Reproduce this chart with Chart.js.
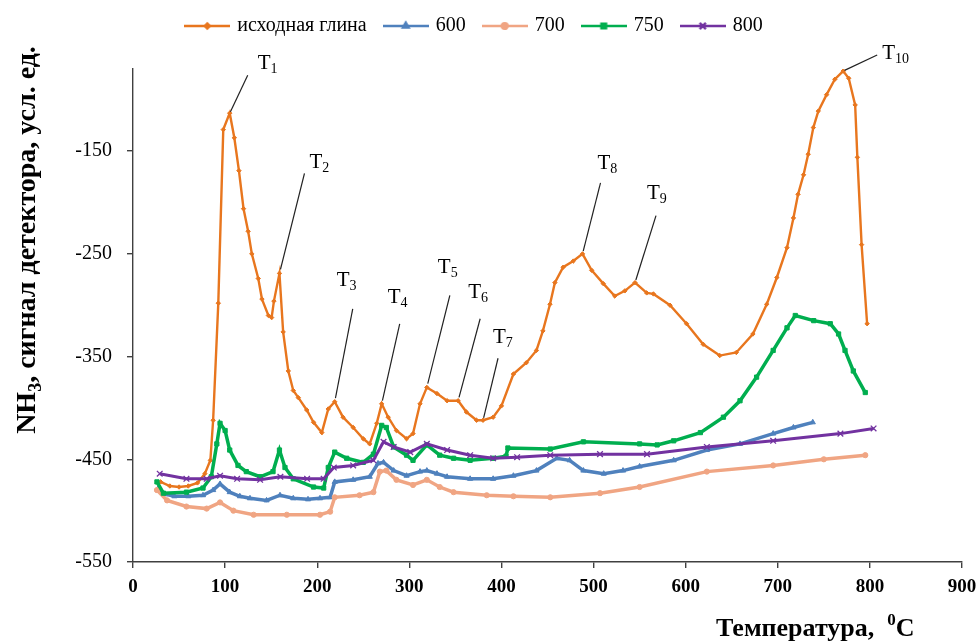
<!DOCTYPE html>
<html>
<head>
<meta charset="utf-8">
<script src="https://cdn.jsdelivr.net/npm/chart.js@4/dist/chart.umd.min.js"></script>
<style>
  body { margin: 0; background: #fff; }
</style>
</head>
<body>
<canvas id="tpd" width="979" height="641"></canvas>
<script>
// NH3 TPD curves: initial clay and samples calcined at 600-800 °C
const seriesNames = ['исходная глина', '600', '700', '750', '800'];

const clayT = [30, 40, 50, 60, 70, 78, 84, 87, 92.6, 98, 105, 110, 115, 120, 125, 129, 136, 140, 147, 150.5,
  153, 159, 163, 168.6, 174, 179.5, 188.6, 196, 205, 212, 219, 228, 239, 250, 257, 264.6, 270, 277, 286, 297,
  304, 311.6, 319, 330, 341, 353, 362, 373, 380, 391, 400, 413, 427, 438, 445, 452.7, 458, 467, 478, 488,
  498, 510.6, 523, 534, 545, 557.7, 565, 583, 601, 619, 637, 655, 673, 688, 699, 710, 717, 722, 728, 733,
  738.6, 744, 753, 762, 771, 777, 784, 786.4, 791, 797];
const clayV = [-472, -476, -477, -476, -473, -464, -451, -412, -298, -129, -113, -137, -169, -206, -228, -250, -274, -294, -310, -312,
  -296, -269, -326, -364, -383, -390, -402, -414, -424, -401, -394, -409, -419, -430, -435, -415, -396, -409, -422, -430,
  -425, -396, -380, -386, -393, -393, -404, -412, -412, -409, -398, -367, -356, -344, -325, -299, -278, -263, -257, -250,
  -266, -279, -291, -286, -278, -288, -289, -300, -318, -338, -349, -346, -328, -299, -273, -244, -215, -192, -173, -153,
  -127, -111, -95, -80, -72, -79, -105, -156, -241, -318];

const t600 = [27, 35, 45, 60, 76, 87, 94.5, 105, 116, 127, 145, 159.6, 174, 190, 203, 214, 219, 239, 257, 266,
  272, 283, 297, 311.6, 319, 330, 341, 366, 391, 413, 438, 460, 474, 489, 511, 532, 550, 587, 623, 659,
  695, 717, 738];
const v600 = [-479, -484, -486, -486, -485, -480, -474, -482, -486, -488, -490, -485, -488, -489, -488, -487, -472, -470, -467, -454,
  -453, -461, -466, -462, -461, -464, -467, -469, -469, -466, -461, -449, -451, -461, -464, -461, -457, -451, -441, -435,
  -425, -419, -414];

const t700 = [26, 37, 58, 80, 94.5, 109, 131, 167, 203, 214, 219, 246, 261, 268, 275, 286, 304, 319, 333, 348,
  384, 413, 453, 507, 550, 623, 695, 750, 795];
const v700 = [-480, -490, -496, -498, -492, -500, -504, -504, -504, -501, -487, -485, -482, -462, -461, -470, -475, -470, -477, -482,
  -485, -486, -487, -483, -477, -462, -456, -450, -446];

const t750 = [26, 33, 58, 76, 85, 91, 94.5, 100, 105, 114, 123, 138, 152, 159, 165, 174, 196, 207, 212, 219,
  232, 250, 261, 270, 275, 283, 297, 304, 319, 333, 348, 366, 391, 405, 407, 453, 489, 550, 569, 587,
  616, 641, 659, 677, 695, 710, 719, 739, 757, 766, 773, 782, 795];
const v750 = [-472, -483, -482, -478, -467, -435, -415, -422, -441, -456, -462, -467, -462, -441, -458, -469, -477, -478, -458, -443,
  -449, -453, -445, -417, -419, -438, -446, -451, -436, -446, -449, -451, -449, -447, -439, -440, -433, -435, -436, -432,
  -424, -409, -393, -370, -344, -322, -310, -315, -318, -328, -344, -364, -385];

const t800 = [29, 58, 80, 94.5, 113, 138, 160, 189, 207, 218, 239, 261, 272, 283, 301, 319, 341, 366, 391, 417,
  453, 507, 558, 623, 695, 768, 804];
const v800 = [-464, -469, -469, -466, -469, -470, -467, -469, -469, -458, -456, -451, -433, -438, -443, -435, -441, -446, -449, -448,
  -446, -445, -445, -438, -432, -425, -420];

const xTicks = [0, 100, 200, 300, 400, 500, 600, 700, 800, 900];
const yTicks = [-550, -450, -350, -250, -150];

// peaks of the initial clay curve marked T1..T10
const peakNames = ['1', '2', '3', '4', '5', '6', '7', '8', '9', '10'];
const peakT = [105, 159, 219, 270, 319, 353, 380, 488, 545, 771];

// leader line end and label origin, px relative to the peak
const leaderEnd = [[18, -38], [25, -100], [18, -93], [18, -80], [23, -92], [22, -82], [15, -62], [18, -71], [21, -67], [34, -16]];
const labelAt = [[28, -44], [30, -105], [2, -116], [6, -101], [11, -114], [10, -103], [10, -77], [15, -85], [12, -84], [39, -12]];

const colors = ['#E8761E', '#4F81BD', '#F0A583', '#00AE4F', '#7232A0'];
const markers = ['rectRot', 'triangle', 'circle', 'rect', 'crossRot'];
const markerSize = [2.2, 3, 2.6, 3, 4];
const lineWidths = [2.4, 3.5, 3.5, 3.5, 3];

const SERIF = '"Liberation Serif", "Times New Roman", serif';

const pts = (ts, vs) => ts.map((t, i) => ({ x: t, y: vs[i] }));
const allData = [pts(clayT, clayV), pts(t600, v600), pts(t700, v700), pts(t750, v750), pts(t800, v800)];

function legendIcon(i) {
  const c = document.createElement('canvas');
  c.width = 46; c.height = 14;
  const g = c.getContext('2d');
  g.strokeStyle = colors[i];
  g.fillStyle = colors[i];
  g.lineWidth = 2.4;
  g.beginPath(); g.moveTo(0, 7); g.lineTo(46, 7); g.stroke();
  Chart.helpers.drawPoint(g, { pointStyle: markers[i], radius: markerSize[i] + 0.3, borderWidth: 1.4 }, 23, 7);
  return c;
}
const icons = seriesNames.map((_, i) => legendIcon(i));

const peakLabels = {
  id: 'peakLabels',
  afterLayout(chart) {
    // nudge the legend row a bit left and up
    const lg = chart.legend;
    lg.left -= 6; lg.right -= 6;
    lg.top -= 23; lg.bottom -= 23;
  },
  afterDatasetsDraw(chart) {
    const { ctx, scales: { x, y } } = chart;
    ctx.save();
    ctx.strokeStyle = '#222';
    ctx.lineWidth = 1.2;
    ctx.fillStyle = '#000';
    ctx.textBaseline = 'alphabetic';
    peakT.forEach((t, i) => {
      const k = clayT.indexOf(t);
      const px = x.getPixelForValue(t);
      const py = y.getPixelForValue(clayV[k]);
      const [lx, ly] = leaderEnd[i];
      ctx.beginPath();
      ctx.moveTo(px + lx * 0.04, py + ly * 0.04);
      ctx.lineTo(px + lx, py + ly);
      ctx.stroke();
      const [tx, ty] = labelAt[i];
      ctx.font = '21px ' + SERIF;
      ctx.fillText('T', px + tx, py + ty);
      const w = ctx.measureText('T').width;
      ctx.font = '14px ' + SERIF;
      ctx.fillText(peakNames[i], px + tx + w, py + ty + 4);
    });
    ctx.restore();
  },
  afterDraw(chart) {
    const { ctx } = chart;
    ctx.save();
    ctx.fillStyle = '#000';
    ctx.textBaseline = 'alphabetic';

    // y axis title, rotated, with subscript 3
    const yBig = 'bold 28px ' + SERIF, ySmall = 'bold 18px ' + SERIF;
    const parts = [['NH', yBig, 0], ['3', ySmall, 6], [', сигнал детектора, усл. ед.', yBig, 0]];
    let total = 0;
    parts.forEach(p => { ctx.font = p[1]; total += ctx.measureText(p[0]).width; });
    ctx.translate(35, 240);
    ctx.rotate(-Math.PI / 2);
    let cx = -total / 2;
    parts.forEach(p => {
      ctx.font = p[1];
      ctx.fillText(p[0], cx, p[2]);
      cx += ctx.measureText(p[0]).width;
    });
    ctx.setTransform(1, 0, 0, 1, 0, 0);

    // x axis title with superscript 0
    const xBig = 'bold 26px ' + SERIF, xSmall = 'bold 17px ' + SERIF;
    let ax = 716;
    ctx.font = xBig;
    ctx.fillText('Температура,  ', ax, 636);
    ax += ctx.measureText('Температура,  ').width;
    ctx.font = xSmall;
    ctx.fillText('0', ax, 625);
    ax += ctx.measureText('0').width;
    ctx.font = xBig;
    ctx.fillText('C', ax, 636);
    ctx.restore();
  }
};

new Chart(document.getElementById('tpd'), {
  type: 'scatter',
  data: {
    datasets: allData.map((d, i) => ({
      label: seriesNames[i],
      data: d,
      showLine: true,
      borderColor: colors[i],
      backgroundColor: colors[i],
      borderWidth: lineWidths[i],
      pointStyle: markers[i],
      pointRadius: markerSize[i],
      pointBorderWidth: i === 4 ? 1.3 : 1,
      pointBackgroundColor: colors[i],
      pointBorderColor: colors[i],
      tension: 0,
      order: 4 - i
    }))
  },
  options: {
    responsive: false,
    animation: false,
    devicePixelRatio: 1,
    layout: { padding: { top: 20, right: 17, bottom: 0, left: 0 } },
    plugins: {
      tooltip: { enabled: false },
      legend: {
        position: 'top',
        labels: {
          usePointStyle: true,
          pointStyleWidth: 40,
          padding: 19,
          color: '#000',
          font: { family: SERIF, size: 20 },
          sort: (a, b) => a.datasetIndex - b.datasetIndex,
          generateLabels(chart) {
            const items = Chart.defaults.plugins.legend.labels.generateLabels(chart);
            items.forEach(it => { it.pointStyle = icons[it.datasetIndex]; });
            return items;
          }
        }
      }
    },
    scales: {
      x: {
        type: 'linear',
        min: 0,
        max: 900,
        afterBuildTicks: s => { s.ticks = xTicks.map(v => ({ value: v })); },
        afterFit: s => { s.height = 79; s.paddingLeft = 0; s.paddingRight = 0; },
        ticks: { color: '#000', padding: 8, font: { family: SERIF, size: 19, weight: 'bold' } },
        grid: { drawOnChartArea: false, drawTicks: true, tickLength: 6, color: '#404040', lineWidth: 1.4 },
        border: { display: true, color: '#404040', width: 1.4 }
      },
      y: {
        min: -550,
        max: -70,
        afterBuildTicks: s => { s.ticks = yTicks.map(v => ({ value: v })); },
        afterFit: s => { s.width = 133; s.paddingTop = 0; s.paddingBottom = 0; },
        ticks: { color: '#000', padding: 15, font: { family: SERIF, size: 20 } },
        grid: { drawOnChartArea: false, drawTicks: true, tickLength: 6, color: '#404040', lineWidth: 1.4 },
        border: { display: true, color: '#404040', width: 1.4 }
      }
    }
  },
  plugins: [peakLabels]
});
</script>
</body>
</html>
